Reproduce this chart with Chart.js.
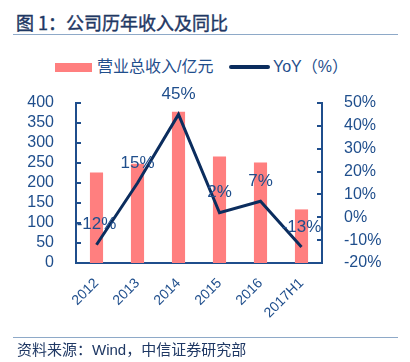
<!DOCTYPE html>
<html><head><meta charset="utf-8">
<script src="https://cdn.jsdelivr.net/npm/chart.js@4"></script>
<style>
html,body{margin:0;padding:0;background:#fff;}
#wrap{position:relative;width:410px;height:362px;overflow:hidden;font-family:"Liberation Sans","Noto Sans CJK SC",sans-serif;}
.title{position:absolute;top:9px;font-family:"Noto Sans CJK SC",sans-serif;font-size:18px;font-weight:normal;-webkit-text-stroke:0.4px #1F3864;color:#1F3864;white-space:nowrap;line-height:26px;}
.sep{position:absolute;left:13px;width:385px;height:0;border-top:1.5px solid #8EA9C8;}
#legend{position:absolute;top:57px;left:0;width:410px;height:20px;font-size:16px;color:#1F4E8C;white-space:nowrap;}
#legend .box{position:absolute;}
#legend .txt{position:absolute;top:0;line-height:20px;}
#source{position:absolute;left:17px;top:339px;font-size:15px;color:#1F3864;white-space:nowrap;line-height:22px;}
canvas{position:absolute;left:0;top:0;}
</style></head>
<body><div id="wrap">
<div class="title" style="left:16px">图 1：</div><div class="title" style="left:66px">公司历年收入及同比</div>
<div class="sep" style="top:34px"></div>
<div id="legend">
  <div class="box" style="left:55px;top:6px;width:37px;height:9px;background:#FF7F7F"></div>
  <div class="txt" style="left:97px">营业总收入/亿元</div>
  <div class="box" style="left:229px;top:8px;width:41px;height:4px;background:#0B2D5E;border-radius:2px"></div>
  <div class="txt" style="left:273px">YoY（%）</div>
</div>
<canvas id="c" width="410" height="362"></canvas>
<div class="sep" style="top:337px"></div>
<div id="source">资料来源：Wind，中信证券研究部</div>
</div>
<script>
const categories = ["2012","2013","2014","2015","2016","2017H1"];
const revenue = [226, 248, 378, 266, 251, 134];
const yoy = [-12, 15, 45, 2, 7, -13];
const yoyLabels = ["-12%","15%","45%","2%","7%","-13%"];
const leftTicks = [0,50,100,150,200,250,300,350,400];
const rightTicks = [-20,-10,0,10,20,30,40,50];

const AXIS = "#1F4E8C";
const FONT = "'Liberation Sans','Noto Sans CJK SC',sans-serif";

const extras = {
  id: "extras",
  afterDatasetsDraw(chart) {
    const ctx = chart.ctx;
    const y = chart.scales.y, y1 = chart.scales.y1;
    ctx.save();
    ctx.strokeStyle = AXIS; ctx.lineWidth = 2;
    leftTicks.forEach(v => { const py = Math.round(y.getPixelForValue(v)); ctx.beginPath(); ctx.moveTo(y.right, py); ctx.lineTo(y.right + 5, py); ctx.stroke(); });
    rightTicks.forEach(v => { const py = Math.round(y1.getPixelForValue(v)); ctx.beginPath(); ctx.moveTo(y1.left, py); ctx.lineTo(y1.left - 5, py); ctx.stroke(); });
    const meta = chart.getDatasetMeta(1);
    ctx.fillStyle = AXIS; ctx.font = "17px " + FONT; ctx.textAlign = "center"; ctx.textBaseline = "middle";
    meta.data.forEach((p, i) => { ctx.fillText(yoyLabels[i], p.x, p.y - 20); });
    ctx.restore();
  }
};

new Chart(document.getElementById("c"), {
  data: {
    labels: categories,
    datasets: [
      { type: "bar", label: "营业总收入/亿元", data: revenue, backgroundColor: "#FF7F7F", yAxisID: "y", order: 2, categoryPercentage: 1, barPercentage: 0.32 },
      { type: "line", label: "YoY（%）", data: yoy, borderColor: "#0B2D5E", borderWidth: 3, pointRadius: 0, tension: 0, yAxisID: "y1", order: 1 }
    ]
  },
  options: {
    responsive: false, animation: false, devicePixelRatio: 1,
    layout: { padding: { top: 103, left: 0, right: 0, bottom: 0 } },
    plugins: { legend: { display: false }, tooltip: { enabled: false } },
    scales: {
      x: {
        grid: { display: false }, border: { display: true, color: AXIS, width: 2 },
        ticks: { color: AXIS, font: { size: 14, family: FONT }, maxRotation: 45, minRotation: 45, padding: 4, autoSkip: false },
        afterFit(s) { s.height = 99; }
      },
      y: {
        position: "left", min: 0, max: 400,
        grid: { display: false }, border: { display: true, color: AXIS, width: 2 },
        ticks: { stepSize: 50, color: AXIS, font: { size: 16, family: FONT }, padding: 14, autoSkip: false },
        afterFit(s) { s.width = 76; }
      },
      y1: {
        position: "right", min: -20, max: 50,
        grid: { display: false }, border: { display: true, color: AXIS, width: 2 },
        ticks: { stepSize: 10, color: AXIS, font: { size: 16, family: FONT }, padding: 14, autoSkip: false, callback: v => v + "%" },
        afterFit(s) { s.width = 88; }
      }
    }
  },
  plugins: [extras]
});
</script>
</body></html>
